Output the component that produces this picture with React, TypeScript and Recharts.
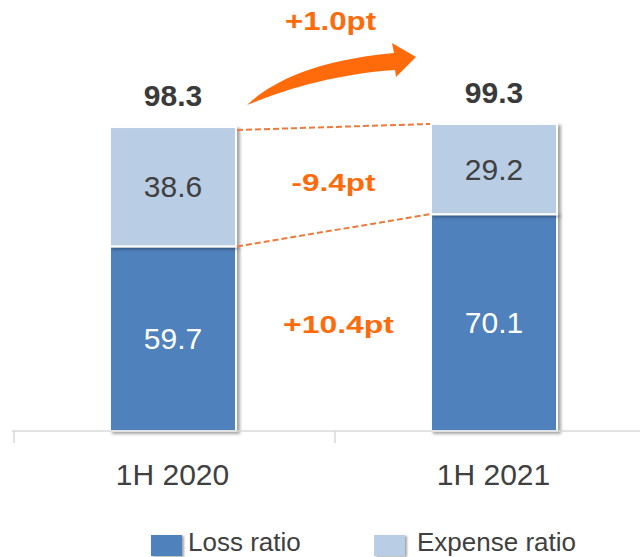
import React from 'react';
import { BarChart, Bar, XAxis, YAxis, LabelList, Legend } from 'recharts';

const categories = ['1H 2020', '1H 2021'];
const lossRatio = [59.7, 70.1];
const expenseRatio = [38.6, 29.2];
const totals = [98.3, 99.3];
const seriesNames = ['Loss ratio', 'Expense ratio'];
const changeTotal = '+1.0pt';
const changeExpense = '-9.4pt';
const changeLoss = '+10.4pt';

const LOSS_COLOR = '#4F81BD';
const EXPENSE_COLOR = '#B9CDE5';
const ORANGE = '#FF6A0A';
const DASH = '#EB7B3C';

const data = categories.map((name, i) => ({
  name,
  loss: lossRatio[i],
  expense: expenseRatio[i],
  total: totals[i],
}));

type G = { x: number; y: number; w: number; h: number };
const geo: { loss: G[]; expense: G[] } = { loss: [], expense: [] };

const LossShape = (p: any) => {
  geo.loss[p.index] = { x: p.x, y: p.y, w: p.width, h: p.height };
  return (
    <rect x={p.x} y={p.y} width={p.width} height={p.height} fill={LOSS_COLOR}
      stroke="#fff" strokeWidth={2} filter="url(#barShadow)" />
  );
};

const ExpenseShape = (p: any) => {
  const me = { x: p.x, y: p.y, w: p.width, h: p.height };
  geo.expense[p.index] = me;
  const rect = (
    <rect x={p.x} y={p.y} width={p.width} height={p.height} fill={EXPENSE_COLOR}
      stroke="#fff" strokeWidth={2} filter="url(#barShadow)" />
  );
  const a = geo.expense[0];
  const l2 = geo.loss[1];
  if (p.index !== 1 || !a || !l2) return rect;
  const R = a.x + a.w;
  const L = me.x;
  const mid = (R + L) / 2;
  return (
    <g>
      {rect}
      <line x1={R + 1} y1={a.y + 3} x2={L - 1} y2={me.y} stroke={DASH} strokeWidth={2} strokeDasharray="6 3" />
      <line x1={R + 1} y1={a.y + a.h} x2={L - 1} y2={me.y + me.h} stroke={DASH} strokeWidth={2} strokeDasharray="6 3" />
      <path
        transform={`translate(${R},${a.y})`}
        d="M 11 -22 C 30 -40, 70 -66, 158 -74 L 156 -84 L 180 -70 L 160 -50 L 159 -57 C 100 -53, 50 -38, 11 -22 Z"
        fill={ORANGE}
      />
      <text transform={`translate(${mid - 3},${a.y - 97}) scale(1.18,1)`} textAnchor="middle"
        fontSize={26.5} fontWeight="bold" fill={ORANGE}>{changeTotal}</text>
      <text transform={`translate(${mid},${a.y + a.h / 2 + 4}) scale(1.31,1)`} textAnchor="middle"
        fontSize={24} fontWeight="bold" fill={ORANGE}>{changeExpense}</text>
      <text transform={`translate(${mid + 5},${l2.y + l2.h / 2 + 10}) scale(1.33,1)`} textAnchor="middle"
        fontSize={24} fontWeight="bold" fill={ORANGE}>{changeLoss}</text>
    </g>
  );
};

const TotalLabel = (p: any) => (
  <text x={p.x + p.width / 2} y={p.y - 21} textAnchor="middle" fontSize={30}
    fontWeight="bold" fill="#3a3a3a">{p.value}</text>
);

const Tick = (p: any) => {
  const { x, y, payload } = p;
  const off = payload && typeof payload.offset === 'number' ? payload.offset : 0;
  return (
    <g>
      <line x1={x - off + 2} x2={x - off + 2} y1={y} y2={y + 12} stroke="#d9d9d9" strokeWidth={1.5} />
      <text x={x} y={y + 54} textAnchor="middle" fontSize={30} fill="#404040">{payload.value}</text>
    </g>
  );
};

const LegendContent = () => {
  const colors = [LOSS_COLOR, EXPENSE_COLOR];
  const lefts = [151, 374];
  const gaps = [6, 12];
  return (
    <div style={{ position: 'relative', width: 640, height: 24 }}>
      {seriesNames.map((n, i) => (
        <div key={n} style={{ position: 'absolute', left: lefts[i], top: -3, height: 24, display: 'flex', alignItems: 'center' }}>
          <div style={{ width: 31, height: 21, marginTop: 6, background: colors[i], boxShadow: '2px 1px 2px rgba(0,0,0,0.35)' }} />
          <span style={{ marginLeft: gaps[i], fontSize: 26, lineHeight: '24px', color: '#404040', whiteSpace: 'nowrap' }}>{n}</span>
        </div>
      ))}
    </div>
  );
};

export default function App() {
  return (
    <div style={{ position: 'absolute', left: 0, top: 0, width: 640, height: 557, overflow: 'hidden', background: '#fff', fontFamily: '"Liberation Sans", Arial, sans-serif' }}>
      <svg style={{ position: 'absolute', width: 0, height: 0 }}>
        <defs>
          <filter id="barShadow" x="-20%" y="-20%" width="150%" height="150%">
            <feDropShadow dx="3" dy="2" stdDeviation="1.5" floodColor="#000" floodOpacity="0.35" />
          </filter>
        </defs>
      </svg>
      <BarChart width={680} height={557} data={data} margin={{ top: 29, right: 26, left: 12, bottom: 0 }}>
        <XAxis dataKey="name" height={102} tick={<Tick />} tickLine={false} tickSize={0} tickMargin={0}
          axisLine={{ stroke: '#d9d9d9', strokeWidth: 1.5 }} interval={0} />
        <YAxis hide domain={[0, 130]} />
        <Legend verticalAlign="bottom" content={<LegendContent />} wrapperStyle={{ left: 0, width: 640, height: 24 }} />
        <Bar dataKey="loss" stackId="a" barSize={126} shape={LossShape} isAnimationActive={false} name={seriesNames[0]}>
          <LabelList dataKey="loss" position="center" fill="#ffffff" fontSize={30} />
        </Bar>
        <Bar dataKey="expense" stackId="a" barSize={126} shape={ExpenseShape} isAnimationActive={false} name={seriesNames[1]}>
          <LabelList dataKey="expense" position="center" fill="#404040" fontSize={30} />
          <LabelList dataKey="total" content={TotalLabel} />
        </Bar>
      </BarChart>
    </div>
  );
}
